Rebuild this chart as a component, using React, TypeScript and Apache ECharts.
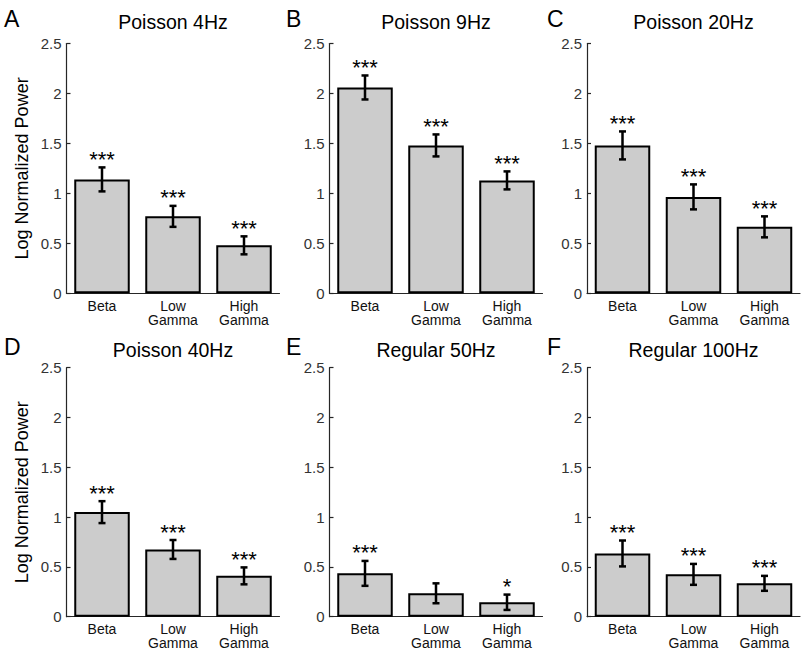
import React, { useEffect, useRef } from "react";
import * as echarts from "echarts";

const categories = ["Beta", "Low\nGamma", "High\nGamma"];
const panelLetters = ["A", "B", "C", "D", "E", "F"];
const panelTitles = ["Poisson 4Hz", "Poisson 9Hz", "Poisson 20Hz", "Poisson 40Hz", "Regular 50Hz", "Regular 100Hz"];
const yTicks = [0, 0.5, 1, 1.5, 2, 2.5];

const meanA = [1.14, 0.77, 0.48];
const errA = [0.12, 0.105, 0.09];
const starsA = ["***", "***", "***"];

const meanB = [2.06, 1.48, 1.13];
const errB = [0.12, 0.11, 0.09];
const starsB = ["***", "***", "***"];

const meanC = [1.48, 0.965, 0.665];
const errC = [0.14, 0.125, 0.105];
const starsC = ["***", "***", "***"];

const meanD = [1.05, 0.675, 0.41];
const errD = [0.11, 0.095, 0.085];
const starsD = ["***", "***", "***"];

const meanE = [0.435, 0.235, 0.145];
const errE = [0.125, 0.1, 0.077];
const starsE = ["***", "", "*"];

const meanF = [0.635, 0.425, 0.335];
const errF = [0.13, 0.105, 0.075];
const starsF = ["***", "***", "***"];

const means = [meanA, meanB, meanC, meanD, meanE, meanF];
const errs = [errA, errB, errC, errD, errE, errF];
const stars = [starsA, starsB, starsC, starsD, starsE, starsF];

const FONT = "'Liberation Sans', Arial, Helvetica, sans-serif";
const AXIS_COLOR = "#262626";

const gridLefts = [66.5, 329.5, 587];
const gridTops = [43.5, 367.7];
const gridW = 213;
const gridHs = [249.8, 249];

export default function App() {
  const ref = useRef<HTMLDivElement>(null);

  useEffect(() => {
    if (!ref.current) return;
    const chart = echarts.init(ref.current, undefined, { renderer: "svg" });

    const grids: any[] = [];
    const xAxes: any[] = [];
    const yAxes: any[] = [];
    const series: any[] = [];
    const graphics: any[] = [];

    for (let p = 0; p < 6; p++) {
      const row = Math.floor(p / 3);
      const col = p % 3;
      const left = gridLefts[col];
      const top = gridTops[row];
      const h = gridHs[row];
      grids.push({ left, top, width: gridW, height: h, containLabel: false });
      xAxes.push({
        type: "category",
        gridIndex: p,
        data: categories,
        axisLine: { show: true, lineStyle: { color: AXIS_COLOR, width: 1.2 } },
        axisTick: { show: false },
        axisLabel: { color: "#111", fontSize: 14, fontFamily: FONT, lineHeight: 14.5, margin: 5 },
      });
      yAxes.push({
        type: "value",
        gridIndex: p,
        min: 0,
        max: 2.5,
        interval: 0.5,
        splitLine: { show: false },
        axisLine: { show: true, lineStyle: { color: AXIS_COLOR, width: 1.2 } },
        axisTick: { show: true, inside: true, length: 4, lineStyle: { color: AXIS_COLOR, width: 1.2 } },
        axisLabel: {
          color: "#333",
          fontSize: 15,
          fontFamily: FONT,
          margin: 5,
          formatter: (v: number) => (yTicks.indexOf(v) >= 0 ? String(v) : ""),
        },
        name: col === 0 ? "Log Normalized Power" : "",
        nameLocation: "middle",
        nameRotate: 90,
        nameGap: 36,
        nameTextStyle: { color: "#000", fontSize: 18, fontFamily: FONT },
      });
      series.push({
        type: "bar",
        xAxisIndex: p,
        yAxisIndex: p,
        data: means[p],
        barWidth: 55.5,
        itemStyle: { color: "#cccccc", borderColor: "#000", borderWidth: 2 },
        z: 2,
      });
      const ebData = means[p].map((m, i) => [i, m, errs[p][i]]);
      const starArr = stars[p];
      series.push({
        type: "custom",
        xAxisIndex: p,
        yAxisIndex: p,
        data: ebData,
        z: 5,
        renderItem: (params: any, api: any) => {
          const idx = api.value(0);
          const m = api.value(1);
          const e = api.value(2);
          const hi = api.coord([idx, m + e]);
          const lo = api.coord([idx, m - e]);
          const x = hi[0];
          const cw = 3.5;
          const ls = { stroke: "#000", lineWidth: 2.5 };
          const children: any[] = [
            { type: "line", shape: { x1: x, y1: hi[1], x2: x, y2: lo[1] }, style: ls },
            { type: "line", shape: { x1: x - cw, y1: hi[1], x2: x + cw, y2: hi[1] }, style: ls },
            { type: "line", shape: { x1: x - cw, y1: lo[1], x2: x + cw, y2: lo[1] }, style: ls },
          ];
          const s = starArr[params.dataIndex];
          if (s) {
            children.push({
              type: "text",
              x: x,
              y: hi[1] - 8,
              style: {
                text: s,
                fill: "#000",
                fontSize: 22,
                fontFamily: FONT,
                align: "center",
                verticalAlign: "middle",
              },
            });
          }
          return { type: "group", children };
        },
      });

      graphics.push({
        type: "text",
        x: left + gridW / 2,
        y: row === 0 ? 21.7 : 350,
        style: {
          text: panelTitles[p],
          fill: "#000",
          fontSize: 19.5,
          fontFamily: FONT,
          align: "center",
          verticalAlign: "middle",
        },
      });
      const letterX = [4, 286, 547][col];
      graphics.push({
        type: "text",
        x: letterX,
        y: row === 0 ? 18.5 : 346.8,
        style: {
          text: panelLetters[p],
          fill: "#000",
          fontSize: 23,
          fontFamily: FONT,
          align: "left",
          verticalAlign: "middle",
        },
      });
    }

    chart.setOption({
      animation: false,
      backgroundColor: "#fff",
      grid: grids,
      xAxis: xAxes,
      yAxis: yAxes,
      series,
      graphic: graphics,
    });

    return () => chart.dispose();
  }, []);

  return (
    <div
      ref={ref}
      style={{ position: "fixed", left: 0, top: 0, width: 802, height: 652, background: "#fff" }}
    />
  );
}
